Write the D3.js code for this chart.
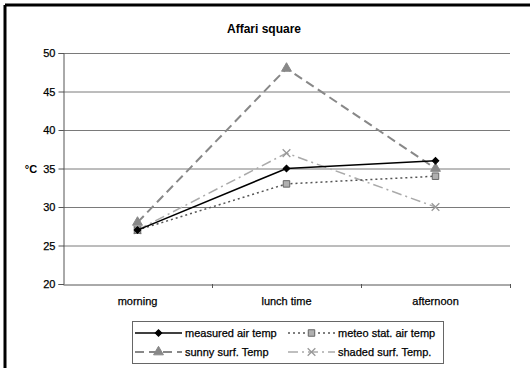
<!DOCTYPE html>
<html><head><meta charset="utf-8">
<script src="https://cdn.jsdelivr.net/npm/d3@7/dist/d3.min.js"></script>
<style>body{margin:0;background:#fff}svg{display:block;font-family:"Liberation Sans",Arial,sans-serif}
text{stroke:#000;stroke-width:0.25px}</style>
</head><body><svg id="c" width="530" height="368"></svg>
<script>
const categories = ["morning", "lunch time", "afternoon"];
const measuredAir = [27, 35, 36];
const meteoAir = [27, 33, 34];
const sunnySurf = [28, 48, 35];
const shadedSurf = [27, 37, 30];
const yTicks = [20, 25, 30, 35, 40, 45, 50];
const seriesNames = ["measured air temp", "meteo stat. air temp", "sunny surf. Temp", "shaded surf. Temp."];
const title = "Affari square";
const yLabel = "°C";

const svg = d3.select("#c");
svg.append("rect").attr("x",0).attr("y",0).attr("width",530).attr("height",368).attr("fill","#fff");
svg.append("line").attr("x1",5).attr("x2",530).attr("y1",5).attr("y2",5).attr("stroke","#000").attr("stroke-width",3);
svg.append("line").attr("x1",5).attr("x2",5).attr("y1",5).attr("y2",368).attr("stroke","#000").attr("stroke-width",3);

const L = 63, R = 510, T = 53, B = 284;
const x = d3.scaleBand().domain(categories).range([L, R]);
const y = d3.scaleLinear().domain([20, 50]).range([B, T]);

svg.append("text").attr("x",264).attr("y",33).attr("text-anchor","middle")
  .attr("font-size",12).attr("font-weight","bold").style("stroke","none").text(title);

svg.append("g").selectAll("line").data(yTicks.filter(d=>d>20)).join("line")
  .attr("x1",L).attr("x2",R).attr("y1",d=>y(d)+0.5).attr("y2",d=>y(d)+0.5)
  .attr("stroke","#7a7a7a").attr("stroke-width",1);

const ya = svg.append("g").attr("transform",`translate(${L+0.5},0)`)
  .call(d3.axisLeft(y).tickValues(yTicks).tickSize(5).tickPadding(3));
ya.select(".domain").attr("stroke","#555");
ya.selectAll(".tick line").attr("stroke","#555");
ya.selectAll("text").attr("font-size",11).attr("fill","#000").attr("font-family","Liberation Sans, Arial, sans-serif");

const xa = svg.append("g").attr("transform",`translate(0,${B+0.5})`)
  .call(d3.axisBottom(x).tickSize(0).tickPadding(13));
xa.select(".domain").attr("stroke","#555");
xa.selectAll("text").attr("font-size",11).attr("fill","#000").attr("font-family","Liberation Sans, Arial, sans-serif");
svg.append("g").selectAll("line").data(categories).join("line")
  .attr("x1",d=>x(d)+x.bandwidth()+0.5).attr("x2",d=>x(d)+x.bandwidth()+0.5)
  .attr("y1",B).attr("y2",B+4).attr("stroke","#555");

svg.append("text").attr("x",31).attr("y",y(35)+4).attr("text-anchor","middle")
  .attr("font-size",11).attr("font-weight","bold").style("stroke","none").text(yLabel);

const series = [
  {name:seriesNames[0], values:measuredAir, stroke:"#000", width:1.5, dash:null, marker:"diamond", mfill:"#000", mstroke:"#000"},
  {name:seriesNames[1], values:meteoAir, stroke:"#555", width:1.5, dash:"2,3", marker:"square", mfill:"#b0b0b0", mstroke:"#666"},
  {name:seriesNames[2], values:sunnySurf, stroke:"#888", width:2, dash:"9,5", marker:"triangle", mfill:"#888", mstroke:"#888"},
  {name:seriesNames[3], values:shadedSurf, stroke:"#aaa", width:1.5, dash:"10,4,2,4", marker:"x", mfill:"none", mstroke:"#999"}
];
const symFor = {diamond:d3.symbolSquare, square:d3.symbolSquare, triangle:d3.symbolTriangle, x:d3.symbolX};
const sizeFor = {diamond:22, square:42, triangle:42, x:40};
const cx = c => x(c) + x.bandwidth()/2;

function drawMarker(g, s, px, py){
  g.append("path").attr("d", d3.symbol().type(symFor[s.marker]).size(sizeFor[s.marker])())
    .attr("transform",`translate(${px},${py})` + (s.marker==="diamond"?" rotate(45)":""))
    .attr("fill", s.mfill).attr("stroke", s.mstroke).attr("stroke-width", s.marker==="x"?1.3:1);
}

const line = d3.line().x((d,i)=>cx(categories[i])).y(d=>y(d));
const order = [3,1,2,0];
order.forEach(k=>{
  const s = series[k];
  const g = svg.append("g");
  g.append("path").attr("d", line(s.values)).attr("fill","none")
    .attr("stroke", s.stroke).attr("stroke-width", s.width)
    .attr("stroke-dasharray", s.dash);
  s.values.forEach((v,i)=>drawMarker(g, s, cx(categories[i]), y(v)));
});

const lg = svg.append("g");
lg.append("rect").attr("x",132.5).attr("y",321.5).attr("width",311).attr("height",42)
  .attr("fill","#fff").attr("stroke","#666");
const legPos = [[135,333],[288,333],[135,352],[288,352]];
series.forEach((s,i)=>{
  const [lx,ly] = legPos[i];
  lg.append("line").attr("x1",lx).attr("x2",lx+47).attr("y1",ly).attr("y2",ly)
    .attr("stroke",s.stroke).attr("stroke-width",s.width).attr("stroke-dasharray",s.dash);
  drawMarker(lg, s, lx+23.5, ly);
  lg.append("text").attr("x",lx+50).attr("y",ly+4).attr("font-size",11).text(s.name);
});
</script></body></html>
